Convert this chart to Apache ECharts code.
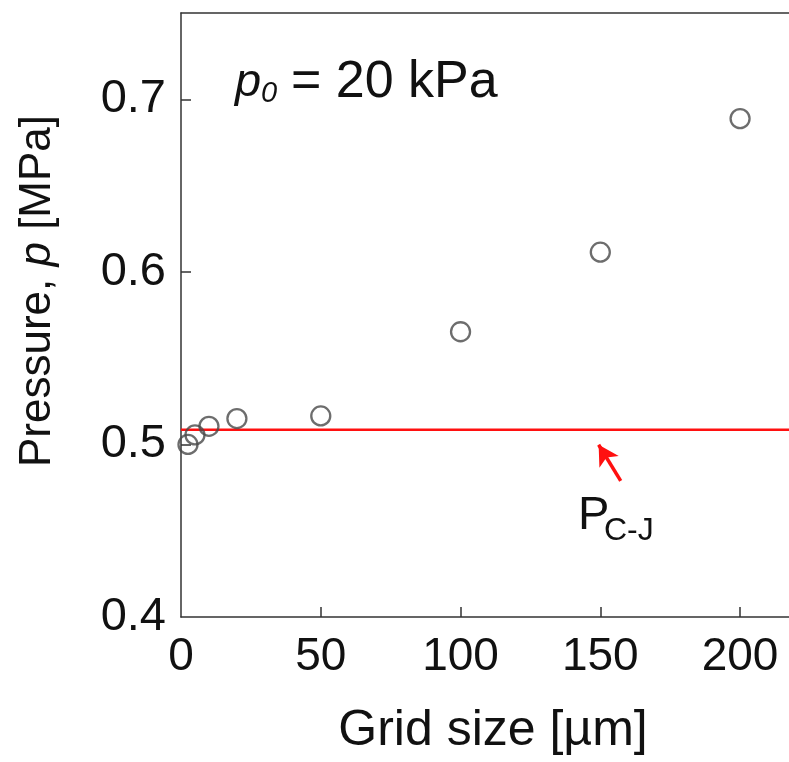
<!DOCTYPE html>
<html>
<head>
<meta charset="utf-8">
<script src="https://cdn.jsdelivr.net/npm/echarts@6/dist/echarts.min.js"></script>
<style>
  html, body { margin: 0; padding: 0; background: #fff; }
  #chart { width: 789px; height: 762px; }
</style>
</head>
<body>
<div id="chart"></div>
<script>
// Peak pressure vs. grid size (p0 = 20 kPa)
const gridSizes = [2.5, 5, 10, 20, 50, 100, 150, 200];      // µm
const pressures = [0.500, 0.5055, 0.5105, 0.515, 0.5165, 0.5653, 0.6114, 0.6888]; // MPa
const pCJ = 0.5085;                                          // C-J pressure, MPa
const xTickLabels = [0, 50, 100, 150, 200];
const yTickLabels = [0.4, 0.5, 0.6, 0.7];

const xMin = 0, xMax = 217.5;
const yMin = 0.4, yMax = 0.75;

const FONT = '"Liberation Sans", Arial, sans-serif';
const AXIS_COLOR = '#333333';

const chart = echarts.init(document.getElementById('chart'), null, { renderer: 'canvas' });

const scatterData = gridSizes.map((g, i) => [g, pressures[i]]);

chart.setOption({
  animation: false,
  backgroundColor: '#ffffff',
  grid: { left: 181, top: 13, right: -2, bottom: 145, containLabel: false },
  xAxis: [
    {
      type: 'value', min: xMin, max: xMax, interval: 50,
      axisLine: { show: true, onZero: false, lineStyle: { color: AXIS_COLOR, width: 1.5 } },
      axisTick: { show: true, inside: true, length: 10, customValues: xTickLabels.slice(1),
                  lineStyle: { color: AXIS_COLOR, width: 1.5 } },
      axisLabel: { show: true, customValues: xTickLabels, margin: 17,
                   fontFamily: FONT, fontSize: 46, color: '#111' },
      splitLine: { show: false }
    },
    {
      // top frame edge
      type: 'value', position: 'top', min: xMin, max: xMax,
      axisLine: { show: true, lineStyle: { color: AXIS_COLOR, width: 1.5 } },
      axisTick: { show: false }, axisLabel: { show: false }, splitLine: { show: false }
    }
  ],
  yAxis: {
    type: 'value', min: yMin, max: yMax, interval: 0.1,
    axisLine: { show: true, onZero: false, lineStyle: { color: AXIS_COLOR, width: 1.5 } },
    axisTick: { show: true, inside: true, length: 10, customValues: yTickLabels.slice(1),
                lineStyle: { color: AXIS_COLOR, width: 1.5 } },
    axisLabel: { show: true, customValues: yTickLabels, margin: 15,
                 fontFamily: FONT, fontSize: 47, color: '#111',
                 formatter: v => v.toFixed(1) },
    splitLine: { show: false }
  },
  series: [
    {
      name: 'C-J',
      type: 'line',
      data: [[xMin, pCJ], [xMax, pCJ]],
      symbol: 'none',
      lineStyle: { color: '#ff1010', width: 2.5 },
      z: 2,
      silent: true,
      markLine: {
        silent: true,
        symbol: ['none', 'arrow'],
        symbolSize: [17, 20],
        label: { show: false },
        lineStyle: { color: '#ff1010', width: 3.5, type: 'solid' },
        data: [[{ coord: [157.3, 0.4789] }, { coord: [149.4, 0.4998] }]]
      }
    },
    {
      name: 'Pressure',
      type: 'scatter',
      data: scatterData,
      symbol: 'circle',
      symbolSize: 19,
      itemStyle: { color: 'rgba(0,0,0,0)', borderColor: '#484848', borderWidth: 2.3 },
      z: 3
    }
  ],
  graphic: [
    // p0 = 20 kPa
    { type: 'text', left: 235, top: 59, style: { text: 'p', font: 'italic 47px ' + FONT, fill: '#111' } },
    { type: 'text', left: 261, top: 79, style: { text: '0', font: 'italic 29px ' + FONT, fill: '#111' } },
    { type: 'text', left: 291, top: 57, style: { text: '= 20 kPa', font: '52px ' + FONT, fill: '#111' } },
    // P_C-J
    { type: 'text', left: 578, top: 493, style: { text: 'P', font: '47px ' + FONT, fill: '#111' } },
    { type: 'text', left: 604, top: 515, style: { text: 'C-J', font: '32px ' + FONT, fill: '#111' } },
    // axis titles
    { type: 'text', x: 493, y: 731,
      style: { text: 'Grid size [µm]', font: '50px ' + FONT, fill: '#111', align: 'center', verticalAlign: 'middle' } },
    { type: 'text', x: 38, y: 291, rotation: Math.PI / 2,
      style: {
        text: '{a|Pressure, }{i|p}{a| [MPa]}', align: 'center', verticalAlign: 'middle',
        rich: {
          a: { font: '44px ' + FONT, fill: '#111' },
          i: { font: 'italic 44px ' + FONT, fill: '#111' }
        }
      } }
  ]
});
</script>
</body>
</html>
